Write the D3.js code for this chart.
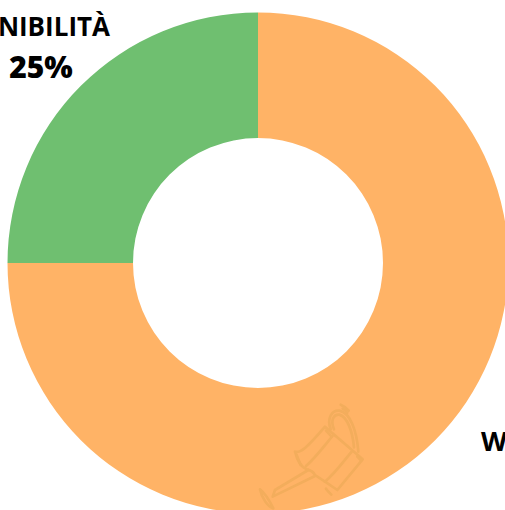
<!DOCTYPE html>
<html>
<head>
<meta charset="utf-8">
<script src="https://cdn.jsdelivr.net/npm/d3@7"></script>
<style>
  html, body { margin: 0; padding: 0; overflow: hidden; background: #fff; }
  svg { display: block; }
</style>
</head>
<body>
<div id="chart"></div>
<script>
const categories = ["Orange", "Green"];
const values = [75, 25];
const colors = ["#FFB366", "#6FBF70"];

const width = 505;
const height = 510;
const cx = 258;
const cy = 263;
const outerRadius = 250.5;
const innerRadius = 125;

const svg = d3.select("#chart")
  .append("svg")
  .attr("width", width)
  .attr("height", height)
  .style("font-family", "'Open Sans', sans-serif");

const color = d3.scaleOrdinal().domain(categories).range(colors);

// starts at 12 o'clock with the big slice going clockwise
const pie = d3.pie().value((d) => d.value).sort(null);
const arc = d3.arc().innerRadius(innerRadius).outerRadius(outerRadius);

const data = categories.map((c, i) => ({ category: c, value: values[i] }));

svg.append("g")
  .attr("transform", `translate(${cx},${cy})`)
  .selectAll("path")
  .data(pie(data))
  .enter()
  .append("path")
  .attr("d", arc)
  .attr("fill", (d) => color(d.data.category));

// watering can watermark
const can = svg.append("g")
  .attr("transform", "translate(250,390) scale(0.3333)")
  .attr("fill", "none")
  .attr("stroke", "#F3AD5C")
  .attr("stroke-width", 8)
  .attr("stroke-linejoin", "round")
  .attr("stroke-linecap", "round");

const canPaths = [
  "M135,185 C150,190 170,175 225,110 L338,208 L262,300 L225,275 L195,255 C190,245 180,240 170,238 C150,230 140,205 135,185Z",
  "M250,135 C225,165 195,205 168,228",
  "M305,185 C280,215 255,250 225,275",
  "M242,118 C230,85 245,60 268,62 C300,68 320,120 325,185",
  "M252,118 C240,90 252,72 268,74 C292,80 308,125 312,172",
  "M175,240 L75,300 L68,320 L195,258",
  "M30,298 C45,310 60,335 70,355 C55,352 35,325 30,298Z",
  "M272,44 C282,48 290,54 296,62",
  "M278,56 C284,58 288,62 292,68",
  "M228,296 C232,302 238,308 244,314",
  "M140,195 L152,225",
  "M228,122 L245,140",
  "M322,200 L332,210",
];

can.selectAll("path")
  .data(canPaths)
  .enter()
  .append("path")
  .attr("d", (d) => d);

// labels, both run off the edge of the picture in the reference
const labels = [
  { text: "NIBILITÀ", x: 110, y: 36, anchor: "end", size: 26, weight: 700 },
  { text: "25%", x: 41, y: 78, anchor: "middle", size: 30, weight: 800 },
  { text: "W", x: 481, y: 451, anchor: "start", size: 27, weight: 700 },
];

svg.selectAll("text")
  .data(labels)
  .enter()
  .append("text")
  .attr("x", (d) => d.x)
  .attr("y", (d) => d.y)
  .attr("text-anchor", (d) => d.anchor)
  .attr("font-size", (d) => d.size)
  .attr("font-weight", (d) => d.weight)
  .attr("fill", "#000")
  .text((d) => d.text);
</script>
</body>
</html>
